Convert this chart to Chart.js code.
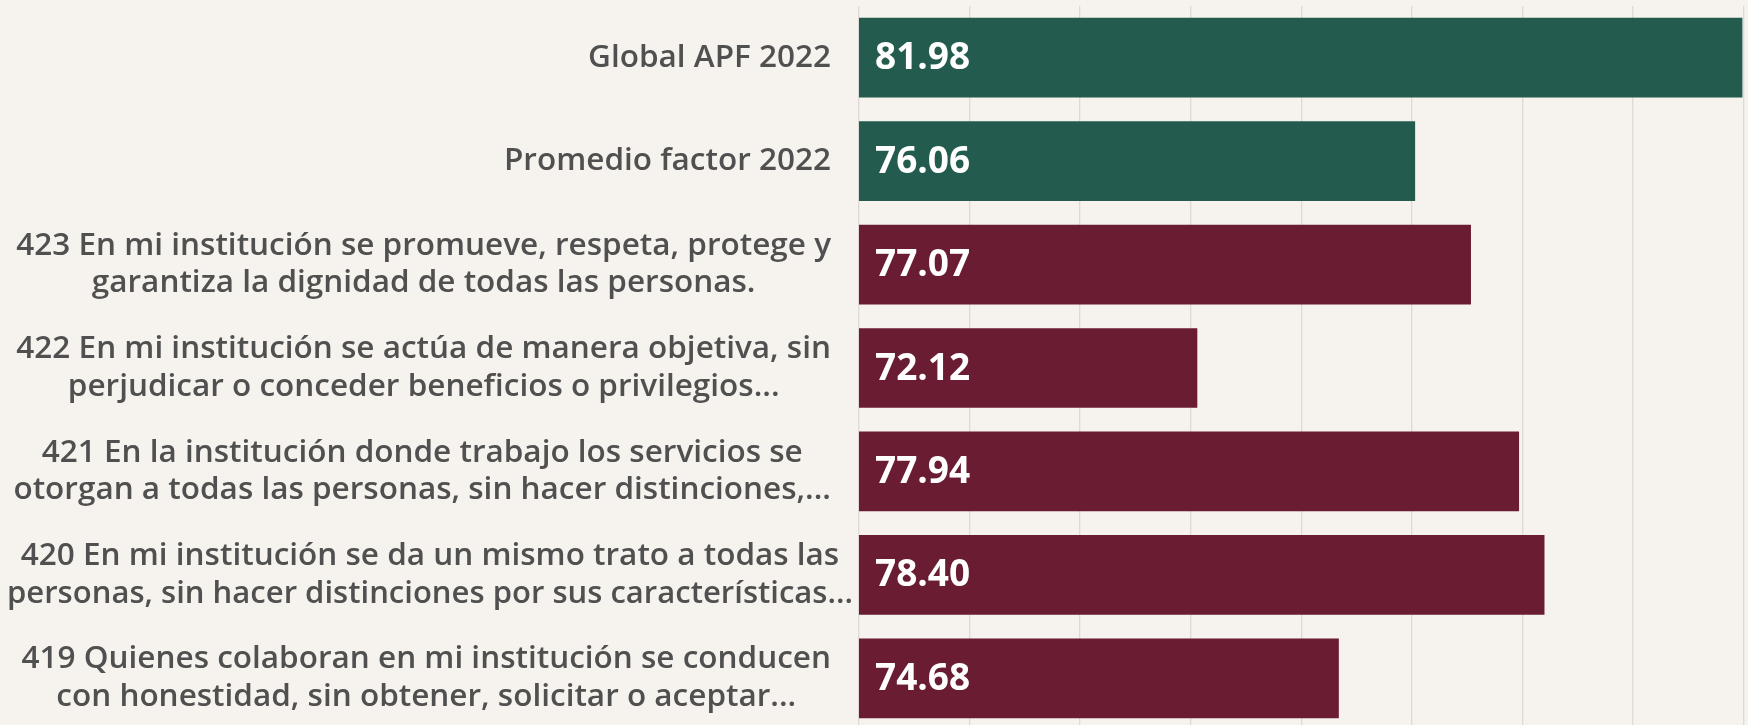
<!DOCTYPE html>
<html>
<head>
<meta charset="utf-8">
<script src="https://cdn.jsdelivr.net/npm/chart.js@4/dist/chart.umd.min.js"></script>
<style>
  html, body { margin: 0; padding: 0; background: #f6f3ee; overflow: hidden; }
  #wrap { width: 1748px; height: 730px; position: relative; }
</style>
</head>
<body>
<div id="wrap"><canvas id="c" width="1748" height="730"></canvas></div>
<script>
// ---- data ----
const categories = [
  ["Global APF 2022"],
  ["Promedio factor 2022"],
  ["423 En mi institución se promueve, respeta, protege y", "garantiza la dignidad de todas las personas."],
  ["422 En mi institución se actúa de manera objetiva, sin", "perjudicar o conceder beneficios o privilegios..."],
  ["421 En la institución donde trabajo los servicios se", "otorgan a todas las personas, sin hacer distinciones,..."],
  ["420 En mi institución se da un mismo trato a todas las", "personas, sin hacer distinciones por sus características..."],
  ["419 Quienes colaboran en mi institución se conducen", "con honestidad, sin obtener, solicitar o aceptar..."]
];
const values = [81.98, 76.06, 77.07, 72.12, 77.94, 78.40, 74.68];
const groups = ["global", "factor", "reactivo", "reactivo", "reactivo", "reactivo", "reactivo"];
const axisMin = 66, axisMax = 82, axisStep = 2;

// ---- styles ----
const GREEN = "#235b4e";
const MAROON = "#691c32";
const LABEL_COLOR = "#505050";
const LABEL_FONT = "600 31.5px 'Open Sans'";
const VALUE_FONT = "700 37px 'Open Sans'";
const LINE_H = 37.7;

const yLabelPlugin = {
  id: "yLabels",
  afterDraw(chart) {
    const ctx = chart.ctx;
    const ys = chart.scales.y;
    ctx.save();
    ctx.font = LABEL_FONT;
    ctx.fillStyle = LABEL_COLOR;
    ctx.textAlign = "center";
    ctx.textBaseline = "middle";
    const rightEdge = chart.chartArea.left - 28;
    const leftLimit = 7, rightLimit = chart.chartArea.left - 6;
    const maxAllowed = rightLimit - leftLimit;
    categories.forEach((lines, i) => {
      const yc = ys.getPixelForValue(i);
      const maxW = Math.min(maxAllowed, Math.max(...lines.map(l => ctx.measureText(l).width)));
      let cx = rightEdge - maxW / 2;
      if (cx - maxW / 2 < leftLimit) cx = leftLimit + maxW / 2;
      lines.forEach((l, k) => {
        const y = yc + (k - (lines.length - 1) / 2) * LINE_H;
        ctx.fillText(l, cx, y, maxAllowed);
      });
    });
    ctx.restore();
  }
};

const valuePlugin = {
  id: "valueLabels",
  afterDraw(chart) {
    const ctx = chart.ctx;
    const xs = chart.scales.x;
    const ys = chart.scales.y;
    ctx.save();
    ctx.font = VALUE_FONT;
    ctx.fillStyle = "#ffffff";
    ctx.textAlign = "left";
    ctx.textBaseline = "middle";
    values.forEach((v, i) => {
      const x0 = xs.getPixelForValue(axisMin);
      const y = ys.getPixelForValue(i);
      ctx.fillText(v.toFixed(2), x0 + 16, y + 1);
    });
    ctx.restore();
  }
};

new Chart(document.getElementById("c"), {
  type: "bar",
  data: {
    labels: categories,
    datasets: [{
      data: values,
      backgroundColor: groups.map(g => g === "reactivo" ? MAROON : GREEN),
      borderWidth: 0,
      barPercentage: 0.771,
      categoryPercentage: 1.0
    }]
  },
  options: {
    indexAxis: "y",
    responsive: false,
    animation: false,
    layout: { padding: { top: 6, right: 4.5, bottom: 0, left: 0 } },
    plugins: { legend: { display: false }, tooltip: { enabled: false } },
    scales: {
      x: {
        min: axisMin, max: axisMax,
        ticks: { stepSize: axisStep, display: false },
        grid: { color: "#dedbd6", lineWidth: 1.3, drawTicks: false },
        border: { display: true, color: "#dedbd6", width: 1.3 }
      },
      y: {
        ticks: { display: false },
        grid: { display: false },
        border: { display: false },
        afterFit(scale) { scale.width = 859; }
      }
    }
  },
  plugins: [yLabelPlugin, valuePlugin]
});
</script>
</body>
</html>
